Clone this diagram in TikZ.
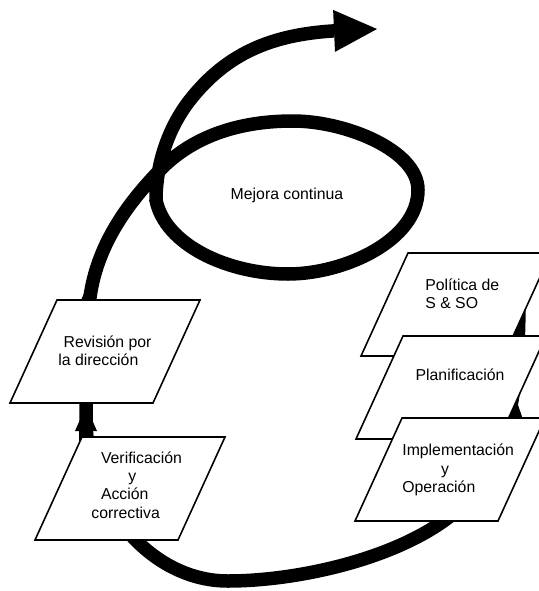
\documentclass[tikz,border=0pt]{standalone}
\usepackage{fontspec}
\setmainfont{Liberation Sans}
\usepackage{tikz}
\usetikzlibrary{arrows.meta}
\tikzset{
  stepbox/.style={draw=black, fill=white, line width=0.9pt},
  steptext/.style={inner sep=0pt, align=left, font=\fontsize{9}{10.5}\selectfont},
  spiral/.style={line width=2.7mm, color=black},
  bigtip/.style={-{Triangle[length=8.6mm, width=8.4mm, line width=0pt]}},
  smalltip/.style={-{Triangle[length=5mm, width=4.4mm, line width=0pt]}}
}
% slanted step box from its top left corner
\newcommand{\stepshape}[1]{\filldraw[stepbox] #1 -- ++(143,0) -- ++(-47,103) -- ++(-143,0) -- cycle;}

\begin{document}
\begin{tikzpicture}[x=0.2mm, y=-0.2mm]
  \useasboundingbox (0,0) rectangle (539,591);

  % the big spiral with the loop
  \draw[spiral, bigtip] (519,295)
    .. controls (519,360) and (516,431) .. (480,485)
    .. controls (436,551) and (308,581) .. (228,581)
    .. controls (148,581) and (86,500) .. (86,420)
    .. controls (86,380) and (88,337) .. (90,297)
    .. controls (97,247) and (125,206) .. (160,170)
    .. controls (195,134) and (243,121) .. (293,121)
    .. controls (345,121) and (418,150) .. (418,190)
    .. controls (418,240) and (345,274) .. (288,274)
    .. controls (228,274) and (165,245) .. (156,200)
    .. controls (156,165) and (168,128) .. (190,100)
    .. controls (227,53) and (272,35) .. (332,31)
    -- (377,29);

  % small heads behind the boxes
  \draw[spiral, smalltip] (516,348) -- (516,316);
  \draw[spiral, smalltip] (512,430) -- (515,396);
  \draw[spiral, smalltip] (86,445) -- (86,406);
  \draw[spiral, smalltip] (89,318) -- (89,282);

  % right column
  \stepshape{(408,253)}
  \node[steptext, anchor=west] (politica) at (425,294) {Política de\\S \& SO};
  \stepshape{(403,336)}
  \node[steptext] (planif) at (460,375) {Planificación};
  \stepshape{(402,418)}
  \node[steptext, anchor=west] (implem) at (402,470) {Implementación\\\hspace*{22pt}y\\Operación};

  % left column
  \stepshape{(57,300)}
  \node[steptext, anchor=west] (revision) at (58,351) {\hspace*{3pt}Revisión por\\la dirección};
  \stepshape{(82,437)}
  \node[steptext, anchor=west] (verif) at (91,485) {\hspace*{5.5pt}Verificación\\\hspace*{21pt}y\\\hspace*{5.5pt}Acción\\correctiva};

  \node[steptext] (mejora) at (287,195) {Mejora continua};
\end{tikzpicture}
\end{document}
